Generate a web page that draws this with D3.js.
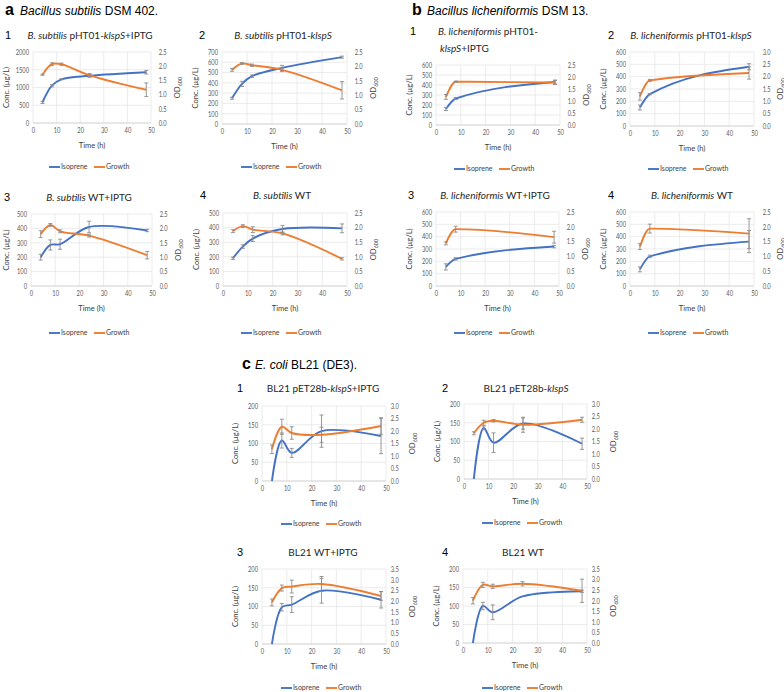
<!DOCTYPE html>
<html>
<head>
<meta charset="utf-8">
<script src="https://cdn.jsdelivr.net/npm/d3@7"></script>
<style>
body { margin: 0; background: #fff; }
text { font-family: Lato, "Open Sans", sans-serif; fill: #262626; }
.ax text { font-size: 7.2px; fill: #595959; }
.axt { font-size: 7.6px; fill: #404040; }
.lg { font-size: 7px; fill: #404040; }
.hd { font-family: "Liberation Sans", Arial, sans-serif; fill: #000; }
</style>
</head>
<body>
<svg id="fig" width="784" height="692"></svg>
<script>
// sampling times (h)
var times = [4, 8, 12, 24, 48];
var timesB = [4, 8, 48];
var xTicks = [0, 10, 20, 30, 40, 50];

// a: B. subtilis
var isoA1 = [580, 1050, 1230, 1330, 1430], isoA1Err = [30, 30, 15, 40, 50];
var odA1 = [1.70, 2.07, 2.07, 1.68, 1.17], odA1Err = [0.02, 0.05, 0.04, 0.06, 0.24];
var isoA2 = [250, 390, 465, 545, 650], isoA2Err = [10, 25, 12, 25, 10];
var odA2 = [1.88, 2.10, 2.04, 1.88, 1.17], odA2Err = [0.05, 0.03, 0.04, 0.06, 0.30];
var isoA3 = [200, 285, 290, 410, 385], isoA3Err = [20, 35, 35, 40, 8];
var odA3 = [1.80, 2.12, 1.90, 1.75, 1.07], odA3Err = [0.12, 0.05, 0.05, 0.05, 0.13];
var isoA4 = [190, 270, 325, 390, 395], isoA4Err = [8, 12, 20, 25, 30];
var odA4 = [1.88, 2.05, 1.93, 1.80, 0.93], odA4Err = [0.05, 0.05, 0.10, 0.05, 0.04];

// b: B. licheniformis
var isoB1 = [160, 265, 430], isoB1Err = [15, 10, 20];
var odB1 = [1.17, 1.80, 1.77], odB1Err = [0.10, 0.03, 0.08];
var isoB2 = [150, 258, 480], isoB2Err = [20, 5, 25];
var odB2 = [1.20, 1.85, 2.15], odB2Err = [0.15, 0.04, 0.25];
var isoB3 = [155, 220, 320], isoB3Err = [25, 10, 10];
var odB3 = [1.44, 1.92, 1.65], odB3Err = [0.05, 0.10, 0.20];
var isoB4 = [135, 240, 360], isoB4Err = [20, 10, 90];
var odB4 = [1.33, 1.94, 1.77], odB4Err = [0.10, 0.15, 0.50];

// c: E. coli BL21
var isoC1 = [0, 108, 75, 133, 120], isoC1Err = [0, 20, 12, 43, 47];
var odC1 = [1.27, 2.17, 1.92, 1.85, 2.20], odC1Err = [0.17, 0.30, 0.25, 0.30, 0.33];
var isoC2 = [0, 136, 97, 148, 94], isoC2Err = [0, 5, 26, 15, 15];
var odC2 = [1.83, 2.25, 2.33, 2.17, 2.37], odC2Err = [0.06, 0.10, 0.05, 0.30, 0.10];
var isoC3 = [0, 98, 105, 142, 118], isoC3Err = [0, 10, 21, 33, 22];
var odC3 = [1.94, 2.61, 2.68, 2.80, 2.24], odC3Err = [0.16, 0.14, 0.30, 0.35, 0.20];
var isoC4 = [0, 100, 83, 126, 140], isoC4Err = [0, 10, 20, 0, 3];
var odC4 = [2.00, 2.75, 2.68, 2.80, 2.47], odC4Err = [0.15, 0.12, 0.10, 0.10, 0.55];

var blue = '#4472c4', orange = '#ed7d31', errColor = '#8c8c8c';

var svg = d3.select('#fig');
svg.append('rect').attr('width', 784).attr('height', 692).attr('fill', '#fff');

var panels = [
  {num: '1', numX: 5, title: [['B. subtilis', 1], [' pHT01-', 0], ['klspS', 1], ['+IPTG', 0]], tx: 90, ty: 39,
   x0: 33, x1: 151, y0: 52, y1: 123, lMax: 2000, lStep: 500, rMax: 2.5, rPad: 8,
   t: times, iso: isoA1, isoErr: isoA1Err, od: odA1, odErr: odA1Err, legX: 93, legY: 167},
  {num: '2', numX: 199, title: [['B. subtilis', 1], [' pHT01-', 0], ['klspS', 1]], tx: 283, ty: 39,
   x0: 222, x1: 347, y0: 52, y1: 124, lMax: 700, lStep: 100, rMax: 2.5, rPad: 8,
   t: times, iso: isoA2, isoErr: isoA2Err, od: odA2, odErr: odA2Err, legX: 285, legY: 167},
  {num: '1', numX: 410, title: [['B. licheniformis', 1], [' pHT01-', 0]], title2: [['klspS', 1], ['+IPTG', 0]],
   tx: 488, ty: 35, t2x: 440, t2y: 52,
   x0: 436, x1: 560, y0: 65, y1: 125, lMax: 600, lStep: 100, rMax: 2.5, rPad: 8,
   t: timesB, iso: isoB1, isoErr: isoB1Err, od: odB1, odErr: odB1Err, legX: 498, legY: 169},
  {num: '2', numX: 608, title: [['B. licheniformis', 1], [' pHT01-', 0], ['klspS', 1]], tx: 691, ty: 39,
   x0: 630, x1: 754, y0: 52, y1: 126, lMax: 600, lStep: 100, rMax: 3.0, rPad: 9,
   t: timesB, iso: isoB2, isoErr: isoB2Err, od: odB2, odErr: odB2Err, legX: 692, legY: 169},
  {num: '3', numX: 4, title: [['B. subtilis', 1], [' WT+IPTG', 0]], tx: 89, ty: 201,
   x0: 31, x1: 152, y0: 214, y1: 286, lMax: 500, lStep: 100, rMax: 2.5, rPad: 8,
   t: times, iso: isoA3, isoErr: isoA3Err, od: odA3, odErr: odA3Err, legX: 93, legY: 333},
  {num: '4', numX: 200, title: [['B. subtilis', 1], [' WT', 0]], tx: 282, ty: 199,
   x0: 223, x1: 347, y0: 213, y1: 286, lMax: 500, lStep: 100, rMax: 2.5, rPad: 8,
   t: times, iso: isoA4, isoErr: isoA4Err, od: odA4, odErr: odA4Err, legX: 285, legY: 333},
  {num: '3', numX: 408, title: [['B. licheniformis', 1], [' WT+IPTG', 0]], tx: 495, ty: 199,
   x0: 436, x1: 559, y0: 212, y1: 286, lMax: 600, lStep: 100, rMax: 2.5, rPad: 8,
   t: timesB, iso: isoB3, isoErr: isoB3Err, od: odB3, odErr: odB3Err, legX: 498, legY: 333},
  {num: '4', numX: 608, title: [['B. licheniformis', 1], [' WT', 0]], tx: 692, ty: 199,
   x0: 630, x1: 754, y0: 212, y1: 286, lMax: 600, lStep: 100, rMax: 2.5, rPad: 9,
   t: timesB, iso: isoB4, isoErr: isoB4Err, od: odB4, odErr: odB4Err, legX: 692, legY: 333},
  {num: '1', numX: 237, title: [['BL21 pET28b-', 0], ['klspS', 1], ['+IPTG', 0]], tx: 323, ty: 392,
   x0: 262, x1: 386, y0: 406, y1: 481, lMax: 200, lStep: 50, rMax: 3.0, rPad: 5,
   t: times, iso: isoC1, isoErr: isoC1Err, od: odC1, odErr: odC1Err, legX: 325, legY: 524},
  {num: '2', numX: 442, title: [['BL21 pET28b-', 0], ['klspS', 1]], tx: 526, ty: 392,
   x0: 464, x1: 587, y0: 404, y1: 479, lMax: 200, lStep: 50, rMax: 3.0, rPad: 5,
   t: times, iso: isoC2, isoErr: isoC2Err, od: odC2, odErr: odC2Err, legX: 526, legY: 523},
  {num: '3', numX: 237, title: [['BL21 WT+IPTG', 0]], tx: 323, ty: 556,
   x0: 262, x1: 386, y0: 569, y1: 644, lMax: 200, lStep: 50, rMax: 3.5, rPad: 5,
   t: times, iso: isoC3, isoErr: isoC3Err, od: odC3, odErr: odC3Err, legX: 325, legY: 688},
  {num: '4', numX: 442, title: [['BL21 WT', 0]], tx: 523, ty: 556,
   x0: 463, x1: 587, y0: 569, y1: 643, lMax: 200, lStep: 50, rMax: 3.5, rPad: 5,
   t: times, iso: isoC4, isoErr: isoC4Err, od: odC4, odErr: odC4Err, legX: 526, legY: 688}
];

function addParts(sel, parts) {
  parts.forEach(function(p) {
    sel.append('tspan').text(p[0]).attr('font-style', p[1] ? 'italic' : 'normal');
  });
}

// narrow tick labels like the original figure
function squeeze(a) {
  a.select('.domain').remove();
  a.selectAll('text').attr('transform', 'scale(0.8,1)');
}

function drawPanel(p) {
  var g = svg.append('g');
  var x = d3.scaleLinear().domain([0, 50]).range([p.x0, p.x1]);
  var yL = d3.scaleLinear().domain([0, p.lMax]).range([p.y1, p.y0]);
  var yR = d3.scaleLinear().domain([0, p.rMax]).range([p.y1, p.y0]);
  var lTicks = d3.range(0, p.lMax + 1e-6, p.lStep);
  var rTicks = d3.range(0, p.rMax + 1e-6, 0.5);

  // gridlines
  g.append('g').selectAll('line').data(lTicks).join('line')
    .attr('x1', p.x0).attr('x2', p.x1)
    .attr('y1', function(d) { return yL(d); }).attr('y2', function(d) { return yL(d); })
    .attr('stroke', '#e6e6e6').attr('stroke-width', 0.8);
  g.append('g').selectAll('line').data(xTicks).join('line')
    .attr('x1', function(d) { return x(d); }).attr('x2', function(d) { return x(d); })
    .attr('y1', p.y0).attr('y2', p.y1)
    .attr('stroke', '#e6e6e6').attr('stroke-width', 0.8);
  g.append('line').attr('x1', p.x0).attr('x2', p.x1).attr('y1', p.y1).attr('y2', p.y1)
    .attr('stroke', '#d0d0d0').attr('stroke-width', 0.8);

  // axes
  g.append('g').attr('class', 'ax').attr('transform', 'translate(' + p.x0 + ',0)')
    .call(d3.axisLeft(yL).tickValues(lTicks).tickSize(0).tickPadding(5).tickFormat(d3.format('d')))
    .call(squeeze);
  g.append('g').attr('class', 'ax').attr('transform', 'translate(' + p.x1 + ',0)')
    .call(d3.axisRight(yR).tickValues(rTicks).tickSize(0).tickPadding(p.rPad * 1.2).tickFormat(d3.format('.1f')))
    .call(squeeze);
  g.append('g').attr('class', 'ax').attr('transform', 'translate(0,' + p.y1 + ')')
    .call(d3.axisBottom(x).tickValues(xTicks).tickSize(0).tickPadding(5))
    .call(squeeze);

  // axis titles
  var ym = (p.y0 + p.y1) / 2;
  g.append('text').attr('class', 'axt').attr('text-anchor', 'middle')
    .attr('transform', 'translate(' + Math.max(9, p.x0 - 24) + ',' + ym + ') rotate(-90)')
    .text('Conc. (µg/L)');
  var od = g.append('text').attr('class', 'axt').attr('text-anchor', 'middle')
    .attr('transform', 'translate(' + (p.x1 + 29) + ',' + ym + ') rotate(-90)');
  od.append('tspan').text('OD');
  od.append('tspan').text('600').attr('font-size', 5.5).attr('dy', 1.5);
  g.append('text').attr('class', 'axt').attr('text-anchor', 'middle')
    .attr('x', (p.x0 + p.x1) / 2).attr('y', p.y1 + 25).text('Time (h)');

  // series
  var isoPts = p.t.map(function(t, i) { return {t: t, v: p.iso[i], e: p.isoErr[i]}; });
  var odPts = p.t.map(function(t, i) { return {t: t, v: p.od[i], e: p.odErr[i]}; });
  var curve = p.t.length > 3 ? d3.curveCatmullRom.alpha(0.5) : d3.curveMonotoneX;
  var lineL = d3.line().x(function(d) { return x(d.t); }).y(function(d) { return yL(d.v); }).curve(curve);
  var lineR = d3.line().x(function(d) { return x(d.t); }).y(function(d) { return yR(d.v); }).curve(curve);

  function errBars(pts, y) {
    var eb = g.append('g').selectAll('g').data(pts.filter(function(d) { return d.e > 0; })).join('g')
      .attr('stroke', errColor).attr('stroke-width', 0.9);
    eb.append('line').attr('x1', function(d) { return x(d.t); }).attr('x2', function(d) { return x(d.t); })
      .attr('y1', function(d) { return y(d.v - d.e); }).attr('y2', function(d) { return y(d.v + d.e); });
    eb.append('line').attr('x1', function(d) { return x(d.t) - 2; }).attr('x2', function(d) { return x(d.t) + 2; })
      .attr('y1', function(d) { return y(d.v - d.e); }).attr('y2', function(d) { return y(d.v - d.e); });
    eb.append('line').attr('x1', function(d) { return x(d.t) - 2; }).attr('x2', function(d) { return x(d.t) + 2; })
      .attr('y1', function(d) { return y(d.v + d.e); }).attr('y2', function(d) { return y(d.v + d.e); });
  }

  g.append('path').datum(isoPts).attr('d', lineL).attr('fill', 'none')
    .attr('stroke', blue).attr('stroke-width', 1.9);
  errBars(isoPts, yL);
  g.append('path').datum(odPts).attr('d', lineR).attr('fill', 'none')
    .attr('stroke', orange).attr('stroke-width', 1.9);
  errBars(odPts, yR);

  // titles
  var tt = g.append('text').attr('x', p.tx).attr('y', p.ty).attr('text-anchor', 'middle')
    .attr('font-size', 10);
  addParts(tt, p.title);
  if (p.title2) {
    var t2 = g.append('text').attr('x', p.t2x).attr('y', p.t2y).attr('font-size', 10);
    addParts(t2, p.title2);
  }
  g.append('text').attr('class', 'hd').attr('x', p.numX).attr('y', p.ty).attr('font-size', 11).text(p.num);

  // legend
  var lg = g.append('g').attr('transform', 'translate(' + p.legX + ',' + p.legY + ')');
  lg.append('line').attr('x1', -44).attr('x2', -33).attr('stroke', blue).attr('stroke-width', 1.9);
  lg.append('text').attr('class', 'lg').attr('x', -32).attr('dy', '0.35em').text('Isoprene');
  lg.append('line').attr('x1', 1).attr('x2', 12).attr('stroke', orange).attr('stroke-width', 1.9);
  lg.append('text').attr('class', 'lg').attr('x', 13).attr('dy', '0.35em').text('Growth');
}

panels.forEach(drawPanel);

// section headers
var headers = [
  {x: 5, tx: 20, y: 15, letter: 'a', parts: [['Bacillus subtilis', 1], [' DSM 402.', 0]]},
  {x: 412, tx: 427, y: 15, letter: 'b', parts: [['Bacillus licheniformis', 1], [' DSM 13.', 0]]},
  {x: 242, tx: 255, y: 369, letter: 'c', parts: [['E. coli', 1], [' BL21 (DE3).', 0]]}
];
headers.forEach(function(h) {
  svg.append('text').attr('class', 'hd').attr('x', h.x).attr('y', h.y)
    .attr('font-size', 16).attr('font-weight', 'bold').text(h.letter);
  var t = svg.append('text').attr('class', 'hd').attr('x', h.tx).attr('y', h.y).attr('font-size', 12);
  addParts(t, h.parts);
});
</script>
</body>
</html>
